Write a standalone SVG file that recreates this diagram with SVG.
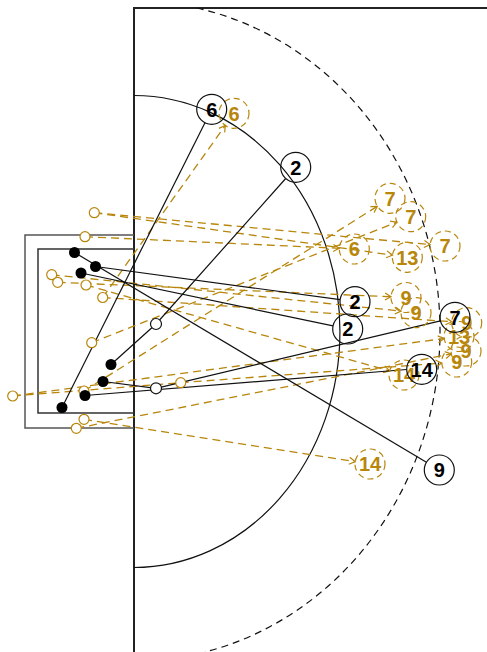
<svg xmlns="http://www.w3.org/2000/svg" width="487" height="652" viewBox="0 0 487 652">
<style>
.bg{fill:#fff}
.fld{fill:none;stroke:#222;stroke-width:2}
.box{fill:none;stroke:#555;stroke-width:1.5}
.box2{fill:none;stroke:#333;stroke-width:1.5}
.arc6{fill:none;stroke:#111;stroke-width:1.2}
.arc9{fill:none;stroke:#111;stroke-width:1.2;stroke-dasharray:7 5}
.bl{fill:none;stroke:#111;stroke-width:1.2}
.gl{fill:none;stroke:#B8860B;stroke-width:1.3;stroke-dasharray:8 5}
.dot{fill:#000}
.open{fill:#fff;stroke:#111;stroke-width:1.2}
.gsrc{fill:#fff;stroke:#B8860B;stroke-width:1.2}
.bc{fill:none;stroke:#111;stroke-width:1.2}
.gc{fill:none;stroke:#B8860B;stroke-width:1.2;stroke-dasharray:6 4}
.bt{font-family:"Liberation Sans",Arial,sans-serif;font-weight:bold;font-size:20px;fill:#000;text-anchor:middle}
.gt{font-family:"Liberation Sans",Arial,sans-serif;font-weight:bold;font-size:20px;fill:#B8860B;text-anchor:middle}
</style>
<defs>
<marker id="ga" markerUnits="userSpaceOnUse" markerWidth="10" markerHeight="10" viewBox="-8 -5 10 10" refX="0" refY="0" orient="auto">
<path d="M-6,-3.5 L0,0 L-6,3.5" fill="none" stroke="#B8860B" stroke-width="1.2"/>
</marker>
</defs>
<rect class="bg" x="0" y="0" width="487" height="652"/>
<g id="field">
<line class="fld" x1="134" y1="8" x2="487" y2="8"/>
<line class="fld" x1="134" y1="7" x2="134" y2="652"/>
<polyline class="box" points="134,235 25,235 25,428 134,428"/>
<polyline class="box2" points="134,249 38,249 38,413 134,413"/>
<path class="arc6" d="M134,95.5 A206,236 0 0 1 134,567.5"/>
<path class="arc9" d="M196.7,8 A306,330 0 0 1 205,652"/>
</g>
<g id="connectors">
<g id="gold-connectors">
<line class="gl" x1="94.3" y1="212.7" x2="430.1" y2="244.6" marker-end="url(#ga)"/>
<line class="gl" x1="94.3" y1="212.7" x2="392.5" y2="255.2" marker-end="url(#ga)"/>
<line class="gl" x1="85" y1="236.7" x2="339.3" y2="248.3" marker-end="url(#ga)"/>
<line class="gl" x1="102.7" y1="297.5" x2="225.3" y2="125.5" marker-end="url(#ga)"/>
<line class="gl" x1="102.7" y1="297.5" x2="451.7" y2="321.7" marker-end="url(#ga)"/>
<line class="gl" x1="84" y1="391" x2="377.3" y2="206.3" marker-end="url(#ga)"/>
<line class="gl" x1="91.7" y1="342.7" x2="396.8" y2="222.2" marker-end="url(#ga)"/>
<line class="gl" x1="86" y1="285" x2="389.6" y2="370.9" marker-end="url(#ga)"/>
<line class="gl" x1="84" y1="419.3" x2="355.2" y2="461.7" marker-end="url(#ga)"/>
<line class="gl" x1="51.7" y1="274.7" x2="401.1" y2="311.1" marker-end="url(#ga)"/>
<line class="gl" x1="57.7" y1="282.3" x2="391" y2="296.8" marker-end="url(#ga)"/>
<line class="gl" x1="76.3" y1="428.3" x2="451.3" y2="353.9" marker-end="url(#ga)"/>
<line class="gl" x1="12.7" y1="396" x2="444.1" y2="338.5" marker-end="url(#ga)"/>
<line class="gl" x1="12.7" y1="396" x2="180.7" y2="382.7"/>
<line class="gl" x1="180.7" y1="382.7" x2="441.7" y2="363.1" marker-end="url(#ga)"/>
</g>
<g id="black-connectors">
<line class="bl" x1="62" y1="407.5" x2="205" y2="122.7"/>
<polyline class="bl" points="111,364.5 156,324 285.7,178.5"/>
<line class="bl" x1="74.5" y1="252.5" x2="426.4" y2="462.3"/>
<line class="bl" x1="95.5" y1="266.5" x2="340.1" y2="299.7"/>
<line class="bl" x1="81" y1="273" x2="333" y2="325.9"/>
<polyline class="bl" points="103,381.5 156,388.3 440.4,320.8"/>
<line class="bl" x1="85" y1="395.5" x2="406.7" y2="369.5"/>
</g>
</g>
<g id="gold-sources">
<circle class="gsrc" cx="94.3" cy="212.7" r="5"/>
<circle class="gsrc" cx="85" cy="236.7" r="5"/>
<circle class="gsrc" cx="51.7" cy="274.7" r="5"/>
<circle class="gsrc" cx="57.7" cy="282.3" r="5"/>
<circle class="gsrc" cx="86" cy="285" r="5"/>
<circle class="gsrc" cx="102.7" cy="297.5" r="5"/>
<circle class="gsrc" cx="91.7" cy="342.7" r="5"/>
<circle class="gsrc" cx="12.7" cy="396" r="5"/>
<circle class="gsrc" cx="84" cy="391" r="5"/>
<circle class="gsrc" cx="84" cy="419.3" r="5"/>
<circle class="gsrc" cx="76.3" cy="428.3" r="5"/>
<circle class="gsrc" cx="180.7" cy="382.7" r="5"/>
</g>
<g id="gold-targets">
<g id="g6a"><circle class="gc" cx="234" cy="113.3" r="15"/><text class="gt" x="234" y="120.5">6</text></g>
<g id="g7a"><circle class="gc" cx="390" cy="198.3" r="15"/><text class="gt" x="390" y="205.5">7</text></g>
<g id="g7b"><circle class="gc" cx="410.7" cy="216.7" r="15"/><text class="gt" x="410.7" y="223.9">7</text></g>
<g id="g7c"><circle class="gc" cx="445" cy="246" r="15"/><text class="gt" x="445" y="253.2">7</text></g>
<g id="g6b"><circle class="gc" cx="354.3" cy="249" r="15"/><text class="gt" x="354.3" y="256.2">6</text></g>
<g id="g13a"><circle class="gc" cx="407.3" cy="257.3" r="15"/><text class="gt" x="407.3" y="264.5">13</text></g>
<g id="g9a"><circle class="gc" cx="406" cy="297.5" r="15"/><text class="gt" x="406" y="304.7">9</text></g>
<g id="g9b"><circle class="gc" cx="416" cy="312.7" r="15"/><text class="gt" x="416" y="319.9">9</text></g>
<g id="g9c"><circle class="gc" cx="466.7" cy="322.7" r="15"/><text class="gt" x="466.7" y="329.9">9</text></g>
<g id="g13b"><circle class="gc" cx="459" cy="336.5" r="15"/><text class="gt" x="459" y="343.7">13</text></g>
<g id="g9d"><circle class="gc" cx="466" cy="351" r="15"/><text class="gt" x="466" y="358.2">9</text></g>
<g id="g9e"><circle class="gc" cx="456.7" cy="362" r="15"/><text class="gt" x="456.7" y="369.2">9</text></g>
<g id="g14a"><circle class="gc" cx="404" cy="375" r="15"/><text class="gt" x="404" y="382.2">14</text></g>
<g id="g14b"><circle class="gc" cx="370" cy="464" r="15"/><text class="gt" x="370" y="471.2">14</text></g>
</g>
<g id="black-dots">
<circle class="dot" cx="74.5" cy="252.5" r="5.5"/>
<circle class="dot" cx="95.5" cy="266.5" r="5.5"/>
<circle class="dot" cx="81" cy="273" r="5.5"/>
<circle class="dot" cx="111" cy="364.5" r="5.5"/>
<circle class="dot" cx="103" cy="381.5" r="5.5"/>
<circle class="dot" cx="85" cy="395.5" r="5.5"/>
<circle class="dot" cx="62" cy="407.5" r="5.5"/>
<circle class="open" cx="156" cy="324" r="5.5"/>
<circle class="open" cx="156" cy="388.3" r="5.5"/>
</g>
<g id="black-targets">
<g id="b6"><circle class="bc" cx="211.7" cy="109.3" r="15"/><text class="bt" x="211.7" y="116.5">6</text></g>
<g id="b2a"><circle class="bc" cx="295.7" cy="167.3" r="15"/><text class="bt" x="295.7" y="174.5">2</text></g>
<g id="b2b"><circle class="bc" cx="355" cy="301.7" r="15"/><text class="bt" x="355" y="308.9">2</text></g>
<g id="b2c"><circle class="bc" cx="347.7" cy="329" r="15"/><text class="bt" x="347.7" y="336.2">2</text></g>
<g id="b7"><circle class="bc" cx="455" cy="317.3" r="15"/><text class="bt" x="455" y="324.5">7</text></g>
<g id="b14"><circle class="bc" cx="421.7" cy="369.3" r="15"/><text class="bt" x="421.7" y="376.5">14</text></g>
<g id="b9"><circle class="bc" cx="439.3" cy="470" r="15"/><text class="bt" x="439.3" y="477.2">9</text></g>
</g>
</svg>
